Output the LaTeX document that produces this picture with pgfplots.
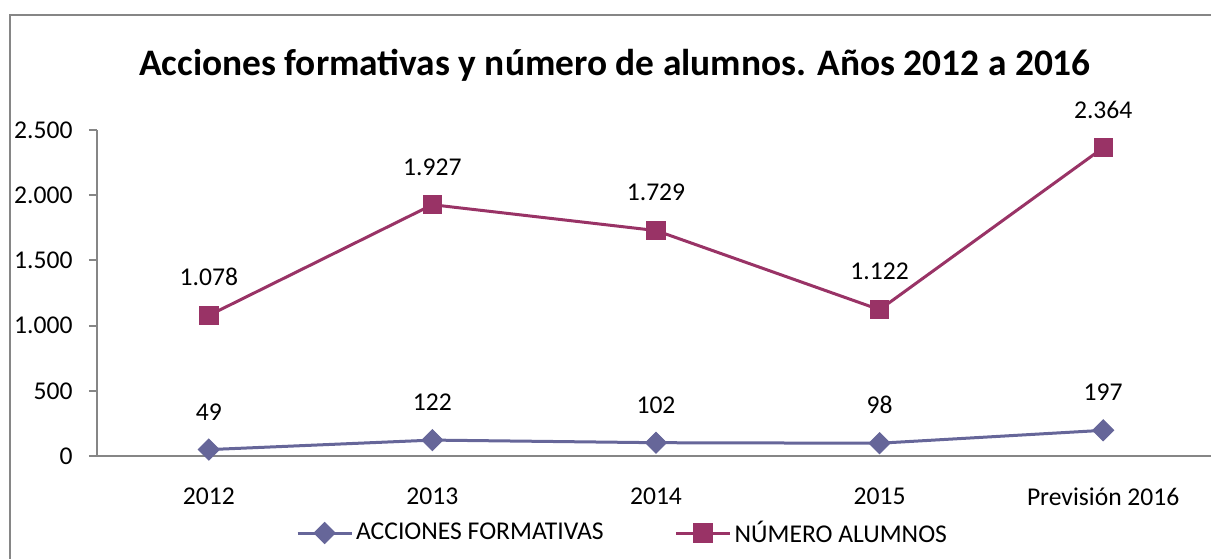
\documentclass[border=0pt]{standalone}
\usepackage{pgfplots}
\pgfplotsset{compat=1.18}
\usepackage{fontspec}
\setmainfont{Carlito}
\definecolor{serA}{RGB}{102,102,153}
\definecolor{serB}{RGB}{153,51,102}
\definecolor{axgray}{RGB}{134,134,134}
\newcommand{\smallfont}{\fontsize{12.8}{14}\selectfont}
\begin{document}
\begin{tikzpicture}
\useasboundingbox (0,0) rectangle (605.5pt,279pt);
\begin{scope}
\clip (0,0) rectangle (605.5pt,279pt);
\draw[axgray, line width=1pt] (5pt,-5pt) -- (5pt,271.5pt) -- (700pt,271.5pt);
\node[font=\fontsize{18.7}{21}\selectfont\bfseries, anchor=base, inner sep=0pt] at (307.5pt,241pt) {Acciones formativas y número de alumnos. Años 2012 a 2016};
\begin{axis}[
  at={(48.5pt,51pt)}, anchor=south west,
  scale only axis, width=559pt, height=163pt,
  xmin=-0.5, xmax=4.5, ymin=0, ymax=2500,
  axis x line=bottom, axis y line=left,
  axis line style={-, draw=axgray, line width=1pt},
  tick style={draw=axgray, line width=1pt},
  tick align=outside,
  major tick length=4pt,
  minor tick length=4pt,
  xtick={0,1,2,3,4},
  xticklabels={2012,2013,2014,2015,Previsión 2016},
  x tick style={draw=none},
  minor xtick={-0.5,0.5,1.5,2.5,3.5,4.5},
  ytick={0,500,1000,1500,2000,2500},
  /pgf/number format/assume math mode=true,
  /pgf/number format/1000 sep={.},
  scaled y ticks=false,
  font=\smallfont,
  ticklabel style={font=\smallfont, text=black},
  yticklabel style={anchor=east, inner sep=0pt, xshift=-8pt},
  xticklabel style={anchor=north, inner sep=0pt, yshift=-11.5pt},
  nodes near coords,
  nodes near coords style={anchor=south, inner sep=0pt, yshift=14.5pt, text=black, font=\smallfont},
  legend style={at={(0.4705,-0.2362)}, anchor=center, draw=none, fill=none,
    legend columns=2, font=\smallfont, nodes={inner sep=1.5pt},
    /tikz/every even column/.append style={column sep=34pt}},
  legend image code/.code={\draw[mark repeat=2,mark phase=2] plot coordinates {(0pt,0pt)(13.5pt,0pt)(27pt,0pt)};},
]
\addplot[serA, line width=1.5pt, mark=square*, mark size=3.7pt, mark options={rotate=45, fill=serA, draw=serA, line width=0.5pt}]
  coordinates {(0,49) (1,122) (2,102) (3,98) (4,197)};
\addlegendentry{ACCIONES FORMATIVAS}
\addplot[serB, line width=1.5pt, mark=square*, mark size=4.6pt, mark options={fill=serB, draw=serB, line width=0.5pt}]
  coordinates {(0,1078) (1,1927) (2,1729) (3,1122) (4,2364)};
\addlegendentry{NÚMERO ALUMNOS}
\end{axis}
\end{scope}
\end{tikzpicture}
\end{document}
